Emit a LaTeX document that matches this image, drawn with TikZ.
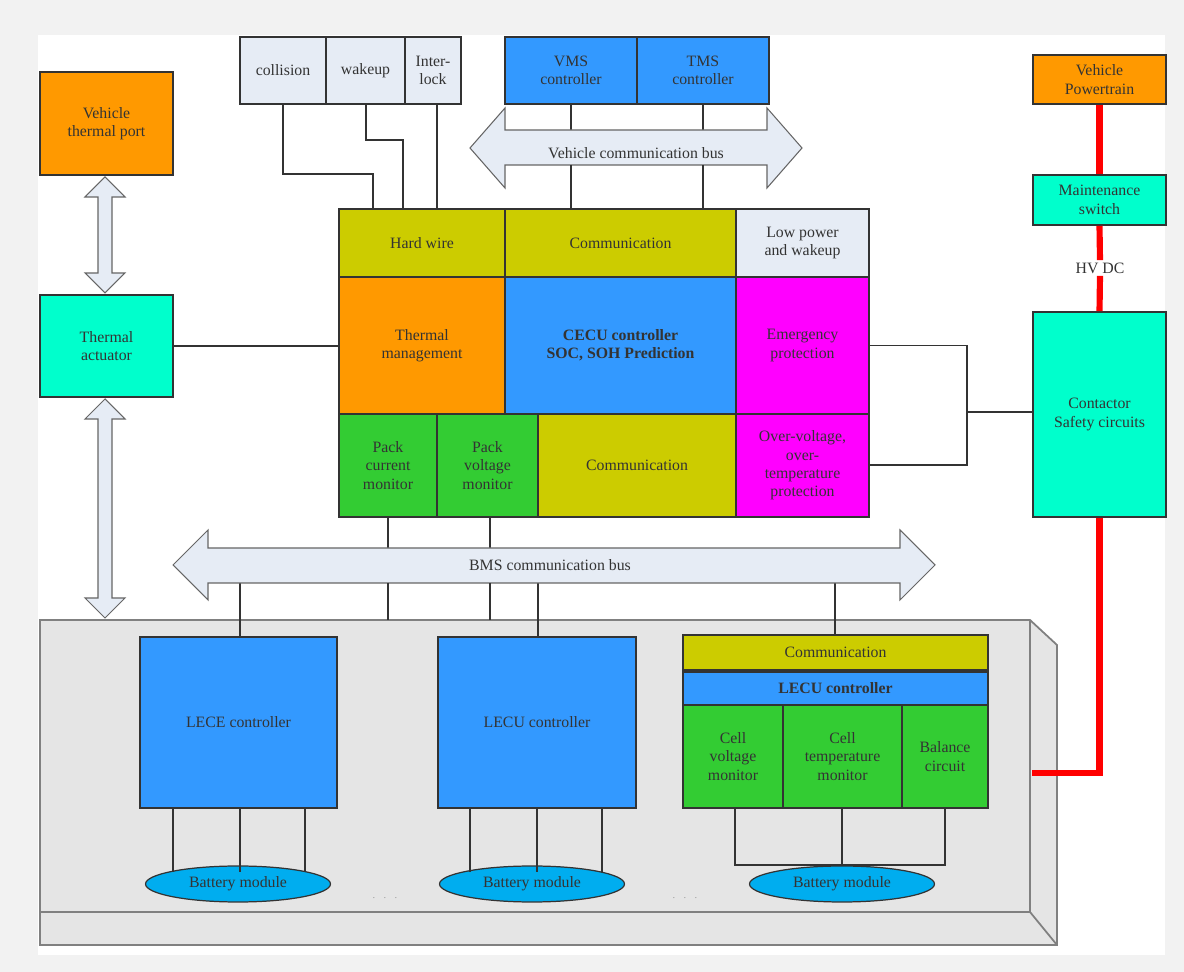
\documentclass[tikz,border=0pt]{standalone}
\usepackage{fontspec}
\setmainfont{Liberation Serif}
\usetikzlibrary{positioning,shapes.geometric}
\definecolor{olive}{HTML}{CCCC00}
\definecolor{orng}{HTML}{FF9900}
\definecolor{blu}{HTML}{3399FF}
\definecolor{mag}{HTML}{FF00FF}
\definecolor{grn}{HTML}{33CC33}
\definecolor{teal}{HTML}{00FFCC}
\definecolor{pale}{HTML}{E6ECF5}
\tikzset{
  blk/.style={draw=black!80, line width=0.9pt, align=center, inner sep=1pt,
    font=\fontsize{9}{10.5}\selectfont, text=black!80},
  wire/.style={draw=black!80, line width=1.1pt},
  hv/.style={draw=red, line width=3.5pt},
  bus/.style={draw=black!60, fill=pale, line width=0.6pt},
}
% box from corner (x1,y1) to (x2,y2), pixel units
\newcommand{\bx}[7]{\node[blk, fill=#6, minimum width={(#4-#2)*0.02cm}, minimum height={(#5-#3)*0.02cm}] (#1) at ({(#2+#4)/2},{(#3+#5)/2}) {#7};}
\begin{document}
\begin{tikzpicture}[x=0.02cm, y=-0.02cm]
        \fill[black!5] (0,0) rectangle (1184,972);
        \fill[white] (38,35) rectangle (1165,955);

        % battery pack tray
        \filldraw[fill=black!10, draw=black!50, line width=1pt] (40,620) -- (1030,620) -- (1057,645) -- (1057,945) -- (40,945) -- cycle;
        \draw[black!50, line width=1pt] (1030,620) -- (1030,912) -- (40,912);
        \draw[black!50, line width=1pt] (1030,912) -- (1057,945);

        % side column
        \bx{vtp}{40}{72}{173}{175}{orng}{Vehicle\\thermal port}
        \bx{tact}{40}{295}{173}{397}{teal}{Thermal\\actuator}

        % top inputs
        \bx{col}{240}{37}{326}{104}{pale}{collision}
        \bx{wak}{326}{37}{405}{104}{pale}{wakeup}
        \bx{ilk}{405}{37}{461}{104}{pale}{Inter-\\lock}
        \bx{vms}{505}{37}{637}{104}{blu}{VMS\\controller}
        \bx{tms}{637}{37}{769}{104}{blu}{TMS\\controller}

        % central ECU
        \bx{hw}{339}{209}{505}{277}{olive}{Hard wire}
        \bx{com}{505}{209}{736}{277}{olive}{Communication}
        \bx{lpw}{736}{209}{869}{277}{pale}{Low power\\and wakeup}
        \bx{thm}{339}{277}{505}{414}{orng}{Thermal\\management}
        \bx{cecu}{505}{277}{736}{414}{blu}{\bfseries CECU controller\\\bfseries SOC, SOH Prediction}
        \bx{emg}{736}{277}{869}{414}{mag}{Emergency\\protection}
        \bx{pcm}{339}{414}{437}{517}{grn}{Pack\\current\\monitor}
        \bx{pvm}{437}{414}{538}{517}{grn}{Pack\\voltage\\monitor}
        \bx{comb}{538}{414}{736}{517}{olive}{Communication}
        \bx{ovp}{736}{414}{869}{517}{mag}{Over-voltage,\\over-\\temperature\\protection}

        % right column
        \bx{vpt}{1033}{55}{1166}{104}{orng}{Vehicle\\Powertrain}
        \bx{msw}{1033}{175}{1166}{225}{teal}{Maintenance\\switch}
        \node[blk, draw=none] (hvdc) at (1100,268) {HV DC};
        \bx{csc}{1033}{312}{1166}{517}{teal}{Contactor\\Safety circuits}

        % local units
        \bx{lece}{140}{637}{337}{808}{blu}{LECE controller}
        \bx{lecu}{438}{637}{636}{808}{blu}{LECU controller}
        \bx{lcom}{683}{635}{988}{670}{olive}{Communication}
        \bx{lctl}{683}{672}{988}{705}{blu}{\bfseries LECU controller}
        \bx{cvm}{683}{705}{783}{808}{grn}{Cell\\voltage\\monitor}
        \bx{ctm}{783}{705}{902}{808}{grn}{Cell\\temperature\\monitor}
        \bx{bal}{902}{705}{988}{808}{grn}{Balance\\circuit}

        \foreach \n/\x in {bm1/238, bm2/532, bm3/842}
          \node[blk, ellipse, fill=cyan, minimum width=3.7cm, minimum height=0.72cm, line width=0.7pt] (\n) at (\x,884) {Battery module};
        \foreach \n/\x in {dt1/385, dt2/685}
          \node[text=black!50, font=\tiny] (\n) at (\x,898) {.\quad.\quad.};

        % wires
        \draw[wire] (col.south -| 283,0) |- (373,174) -- (hw.north -| 373,0);
        \draw[wire] (wak.south -| 366,0) |- (403,140) -- (hw.north -| 403,0);
        \draw[wire] (ilk.south -| 437,0) -- (hw.north -| 437,0);
        \draw[wire] (vms.south -| 571,0) -- (com.north -| 571,0);
        \draw[wire] (tms.south -| 703,0) -- (com.north -| 703,0);
        \draw[wire] (tact.east) -- (thm.west |- tact.east);
        \draw[wire] (emg.east) -| (967,465) -- (ovp.east |- 0,465);
        \draw[wire] (967,412) -- (csc.west |- 0,412);
        \foreach \x in {388,490} \draw[wire] (pcm.south -| \x,0) -- (\x,620);
        \draw[wire] (240,583) -- (lece.north -| 240,0);
        \draw[wire] (538,583) -- (lecu.north -| 538,0);
        \draw[wire] (835,583) -- (lcom.north -| 835,0);
        \foreach \x in {173,240,305} \draw[wire] (lece.south -| \x,0) -- (\x,872);
        \foreach \x in {470,537,602} \draw[wire] (lecu.south -| \x,0) -- (\x,872);
        \draw[wire] (cvm.south -| 735,0) |- (945,865) -- (bal.south -| 945,0);
        \draw[wire] (ctm.south -| 842,0) -- (842,866);

        % buses
        \draw[bus] (470,148) -- (505,108) -- (505,130) -- (767,130) -- (767,108) -- (802,148) -- (767,188) -- (767,165) -- (505,165) -- (505,188) -- cycle;
        \node[blk, draw=none] (vbus) at (636,153) {Vehicle communication bus};
        \foreach \x in {571,703} \draw[wire] (\x,165) -- (\x,209);
        \draw[bus] (173,565) -- (208,530) -- (208,548) -- (900,548) -- (900,530) -- (935,565) -- (900,600) -- (900,583) -- (208,583) -- (208,600) -- cycle;
        \node[blk, draw=none] (bbus) at (550,565) {BMS communication bus};
        \foreach \x in {388,490} \draw[wire] (\x,583) -- (\x,620);

        % thermal links
        \draw[bus] (105,177) -- (125,197) -- (112,197) -- (112,273) -- (125,273) -- (105,293) -- (85,273) -- (98,273) -- (98,197) -- (85,197) -- cycle;
        \draw[bus] (105,399) -- (125,419) -- (112,419) -- (112,598) -- (125,598) -- (105,618) -- (85,598) -- (98,598) -- (98,419) -- (85,419) -- cycle;

        % HV path
        \draw[hv] (vpt.south) -- (msw.north);
        \draw[hv] (msw.south) -- (hvdc.north);
        \draw[hv] (hvdc.south) -- (csc.north);
        \draw[hv] (csc.south) |- (1032,773);
\end{tikzpicture}
\end{document}
